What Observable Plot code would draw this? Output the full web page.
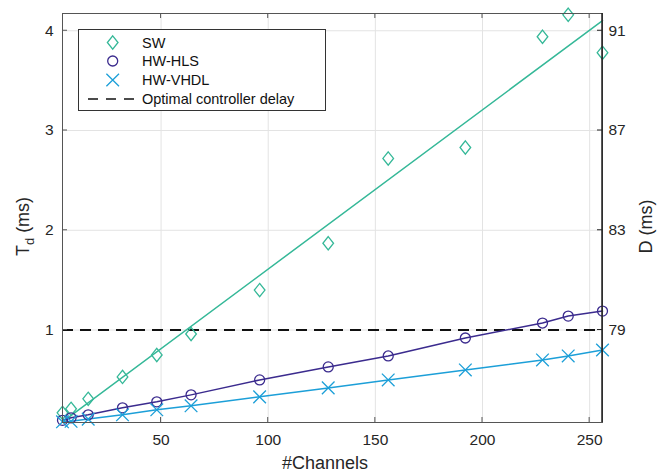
<!DOCTYPE html>
<html>
<head>
<meta charset="utf-8">
<script src="https://cdn.jsdelivr.net/npm/d3@7"></script>
<script src="https://cdn.jsdelivr.net/npm/@observablehq/plot@0.6"></script>
<style>
  html, body { margin: 0; padding: 0; background: #fff; }
  svg { display: block; }
</style>
</head>
<body>
<div id="chart"></div>
<script>
// ---- data ----
const channels = [4, 8, 16, 32, 48, 64, 96, 128, 156, 192, 228, 240, 256];
const swDelay   = [0.17, 0.21, 0.31, 0.53, 0.75, 0.96, 1.40, 1.87, 2.72, 2.83, 3.94, 4.16, 3.78];
const hlsDelay  = [0.095, 0.12, 0.15, 0.22, 0.28, 0.35, 0.50, 0.63, 0.74, 0.92, 1.07, 1.14, 1.19];
const vhdlDelay = [0.08, 0.085, 0.107, 0.15, 0.20, 0.24, 0.33, 0.42, 0.50, 0.60, 0.70, 0.74, 0.80];
const optimalDelay = 1;
const xTicks = [50, 100, 150, 200, 250];
const yTicks = [1, 2, 3, 4];
const dTicks = [79, 83, 87, 91];          // right axis D (ms): D = 75 + 4·Td
const seriesNames = ["SW", "HW-HLS", "HW-VHDL", "Optimal controller delay"];
const colors = {SW: "#35b898", HLS: "#3b2b8e", VHDL: "#1c9fd8"};

const toTd = d => (d - 75) / 4;
const sw = channels.map((c, i) => ({c, v: swDelay[i]}));
const hls = channels.map((c, i) => ({c, v: hlsDelay[i]}));
const vhdl = channels.map((c, i) => ({c, v: vhdlDelay[i]}));

const font = "Liberation Sans, Arial, Helvetica, sans-serif";
const diamondR = 4.75, circleR = 5, crossR = 5.8;

// MATLAB-like diamond (width ≈ 0.8 × height)
const wideDiamond = {
  draw(context, size) {
    const a = Math.sqrt(size / 1.6), w = 0.8 * a;
    context.moveTo(0, -a);
    context.lineTo(w, 0);
    context.lineTo(0, a);
    context.lineTo(-w, 0);
    context.closePath();
  }
};

const plot = Plot.plot({
  width: 665,
  height: 473,
  marginLeft: 62,
  marginRight: 63,
  marginTop: 13,
  marginBottom: 51,
  style: {fontFamily: font, fontSize: "15.5px", color: "#262626", background: "#fff"},
  x: {domain: [4, 256], label: null},
  y: {domain: [0.073, 4.173], label: null},
  marks: [
    Plot.gridX(xTicks, {stroke: "#e3e3e3", strokeOpacity: 1}),
    Plot.gridY(yTicks, {stroke: "#e3e3e3", strokeOpacity: 1}),
    Plot.ruleY([optimalDelay], {stroke: "#111", strokeWidth: 2, strokeDasharray: "11,7"}),
    Plot.linearRegressionY(sw, {x: "c", y: "v", stroke: colors.SW, strokeWidth: 1.5, ci: 0}),
    Plot.line(hls, {x: "c", y: "v", stroke: colors.HLS, strokeWidth: 1.5}),
    Plot.line(vhdl, {x: "c", y: "v", stroke: colors.VHDL, strokeWidth: 1.5}),
    Plot.dot(sw, {x: "c", y: "v", symbol: wideDiamond, r: diamondR, stroke: colors.SW, strokeWidth: 1.3, fill: "none"}),
    Plot.dot(hls, {x: "c", y: "v", symbol: "circle", r: circleR, stroke: colors.HLS, strokeWidth: 1.3, fill: "none"}),
    Plot.dot(vhdl, {x: "c", y: "v", symbol: "times", r: crossR, stroke: colors.VHDL, strokeWidth: 1.3, fill: "none"}),
    Plot.frame({stroke: "#555", strokeWidth: 1}),
    Plot.axisX(xTicks, {anchor: "bottom", tickSize: 0, tickPadding: 11, label: null, tickFormat: d => String(d)}),
    Plot.axisY(yTicks, {anchor: "left", tickSize: 0, tickPadding: 9, label: null, tickFormat: d => String(d)}),
    Plot.axisY(dTicks.map(toTd), {anchor: "right", tickSize: 0, tickPadding: 6, label: null,
      tickFormat: t => String(Math.round(75 + 4 * t))})
  ]
});

document.getElementById("chart").appendChild(plot);

// ---- post-processing: inward ticks, right axis line, axis titles, legend ----
const sx = plot.scale("x"), sy = plot.scale("y");
const [xl, xr] = [sx.apply(sx.domain[0]), sx.apply(sx.domain[1])];
const [yb, yt] = [sy.apply(sy.domain[0]), sy.apply(sy.domain[1])];
const svg = d3.select(plot);
const g = svg.append("g").attr("fill", "none");
const tk = 5;
xTicks.forEach(t => {
  const x = sx.apply(t);
  g.append("line").attr("x1", x).attr("x2", x).attr("y1", yb).attr("y2", yb - tk).attr("stroke", "#555");
  g.append("line").attr("x1", x).attr("x2", x).attr("y1", yt).attr("y2", yt + tk).attr("stroke", "#555");
});
yTicks.forEach(t => {
  const y = sy.apply(t);
  g.append("line").attr("x1", xl).attr("x2", xl + tk).attr("y1", y).attr("y2", y).attr("stroke", "#555");
});
dTicks.forEach(d => {
  const y = sy.apply(toTd(d));
  g.append("line").attr("x1", xr).attr("x2", xr - tk).attr("y1", y).attr("y2", y).attr("stroke", "#222");
});
g.append("line").attr("x1", xr).attr("x2", xr).attr("y1", yt).attr("y2", yb)
  .attr("stroke", "#222").attr("stroke-width", 1.5);

const labels = svg.append("g").attr("font-family", font).attr("fill", "#262626").attr("font-size", 18);
labels.append("text").attr("x", (xl + xr) / 2 - 7).attr("y", 469).attr("text-anchor", "middle").text("#Channels");
const tl = labels.append("text").attr("text-anchor", "middle")
  .attr("transform", `translate(28.5,${(yt + yb) / 2 + 9}) rotate(-90)`);
tl.append("tspan").text("T");
tl.append("tspan").attr("dy", 5).attr("font-size", 13).text("d");
tl.append("tspan").attr("dy", -5).text(" (ms)");
labels.append("text").attr("text-anchor", "middle")
  .attr("transform", `translate(652,${(yt + yb) / 2 + 9}) rotate(-90)`).text("D (ms)");

// legend
const lg = svg.append("g").attr("font-family", font).attr("font-size", 14.5).attr("text-anchor", "start");
lg.append("rect").attr("x", 78.5).attr("y", 29.5).attr("width", 247).attr("height", 81)
  .attr("fill", "#fff").attr("stroke", "#333").attr("stroke-width", 1);
const rowY = [42.5, 61, 80, 99];
const mx = 112.7;
const symbols = [
  {sym: wideDiamond, r: diamondR, color: colors.SW},
  {sym: d3.symbolCircle, r: circleR, color: colors.HLS},
  {sym: d3.symbolTimes, r: crossR, color: colors.VHDL}
];
symbols.forEach((s, i) => {
  lg.append("path").attr("d", d3.symbol(s.sym, Math.PI * s.r * s.r)())
    .attr("transform", `translate(${mx},${rowY[i]})`)
    .attr("fill", "none").attr("stroke", s.color).attr("stroke-width", 1.3);
});
lg.append("line").attr("x1", 88).attr("x2", 137).attr("y1", rowY[3]).attr("y2", rowY[3])
  .attr("stroke", "#111").attr("stroke-width", 1.5).attr("stroke-dasharray", "10,8");
seriesNames.forEach((n, i) => {
  lg.append("text").attr("x", 142).attr("y", rowY[i] + 5).attr("fill", "#111")
    .attr("text-anchor", "start").text(n);
});
</script>
</body>
</html>
